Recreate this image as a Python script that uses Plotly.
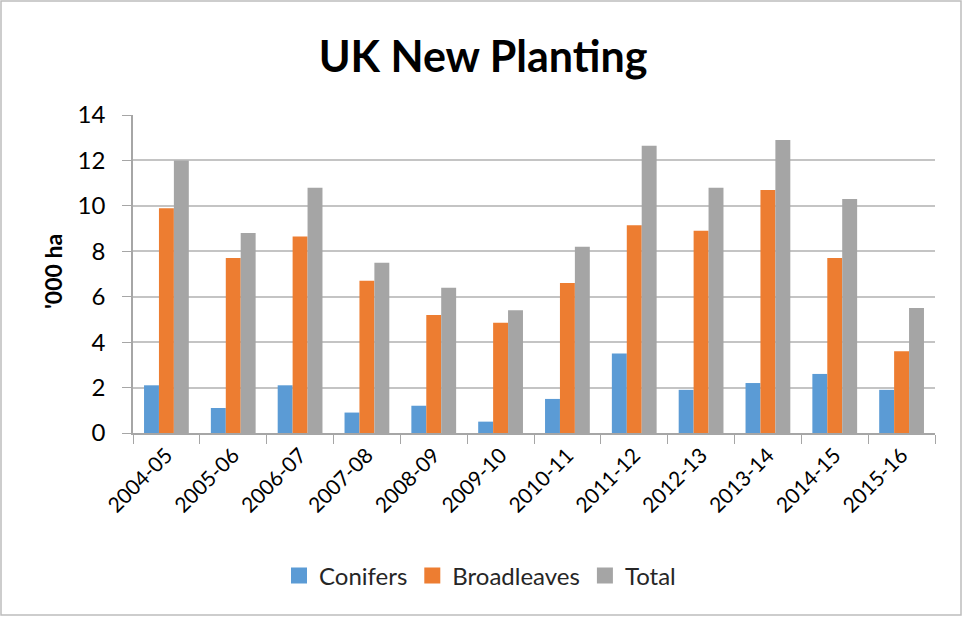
import plotly.graph_objects as go

# UK new planting by season, thousand hectares
seasons = ["2004-05", "2005-06", "2006-07", "2007-08", "2008-09", "2009-10",
           "2010-11", "2011-12", "2012-13", "2013-14", "2014-15", "2015-16"]
conifers = [2.1, 1.1, 2.1, 0.9, 1.2, 0.5, 1.5, 3.5, 1.9, 2.2, 2.6, 1.9]
broadleaves = [9.9, 7.7, 8.65, 6.7, 5.2, 4.85, 6.6, 9.15, 8.9, 10.7, 7.7, 3.6]
total = [12.0, 8.8, 10.8, 7.5, 6.4, 5.4, 8.2, 12.65, 10.8, 12.9, 10.3, 5.5]
y_ticks = [0, 2, 4, 6, 8, 10, 12, 14]

W, H = 963, 617
ML, MR, MT, MB = 133, 28, 115, 184
PW, PH = W - ML - MR, H - MT - MB

FONT = "Lato, 'Open Sans', sans-serif"
GRID = "#c4c4c4"
AXIS = "#a6a6a6"

series = [("Conifers", conifers, "#5B9BD5"),
          ("Broadleaves", broadleaves, "#ED7D31"),
          ("Total", total, "#A5A5A5")]

fig = go.Figure()
for name, vals, color in series:
    fig.add_trace(go.Bar(x=seasons, y=vals, name=name, marker_color=color,
                         marker_line_width=0, showlegend=False,
                         legendgroup=name))
# square legend keys
for name, vals, color in series:
    fig.add_trace(go.Scatter(x=[None], y=[None], mode="markers", name=name,
                             legendgroup=name,
                             marker=dict(symbol="square", size=16, color=color)))

def px_x(p):
    return (p - ML) / PW

def px_y(p):
    return (H - MB - p) / PH

fig.update_layout(
    width=W, height=H,
    margin=dict(l=ML, r=MR, t=MT, b=MB, autoexpand=False),
    paper_bgcolor="white", plot_bgcolor="white",
    barmode="group", bargap=0.33, bargroupgap=0,
    font=dict(family=FONT, color="#404040"),
    title=dict(text="<b>UK New Planting</b>", x=483 / W, xanchor="center",
               y=1 - 57 / H, yanchor="middle", yref="container",
               font=dict(size=43, color="#000000", family=FONT)),
    xaxis=dict(type="category", automargin=False,
               showline=True, linecolor=AXIS, linewidth=1.5,
               ticks="outside", tickson="boundaries", ticklen=9,
               tickcolor=AXIS, tickangle=-45,
               tickfont=dict(size=21, color="#000000")),
    yaxis=dict(range=[0, 14], tickvals=y_ticks, showgrid=True, automargin=False,
               gridcolor=GRID, gridwidth=1.5, showline=True,
               linecolor=AXIS, linewidth=1.5, ticks="outside",
               ticklen=9, tickcolor=AXIS, zeroline=False,
               ticklabelstandoff=12,
               tickfont=dict(size=24, color="#000000")),
    legend=dict(orientation="h", x=px_x(480), xanchor="center",
                y=px_y(576), yanchor="middle", tracegroupgap=0,
                font=dict(size=24, color="#262626")),
    annotations=[dict(text="<b>'000 ha</b>", x=px_x(53), y=px_y(272),
                      xref="paper", yref="paper", showarrow=False,
                      xanchor="center", yanchor="middle",
                      textangle=-90, font=dict(size=23, color="#000000"))],
    shapes=[dict(type="rect", xref="paper", yref="paper",
                 x0=px_x(1), x1=px_x(961), y0=px_y(615), y1=px_y(1),
                 line=dict(color="#bdbdbd", width=1.5))],
)

fig.write_html("out.html")
